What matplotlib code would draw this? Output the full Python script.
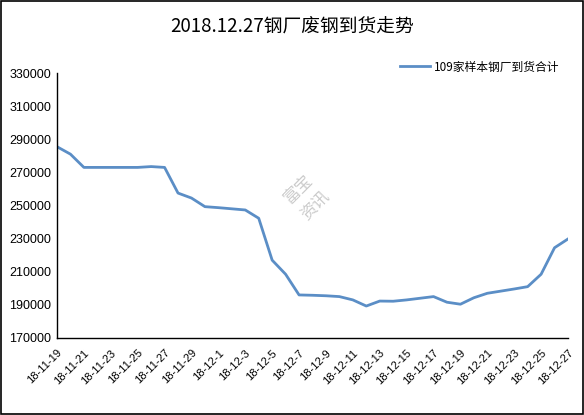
import matplotlib.pyplot as plt
import matplotlib.patches as patches
import numpy as np
import pandas as pd

plt.rcParams['font.family'] = ['Noto Sans CJK SC', 'DejaVu Sans']

# daily dates 2018-11-19 .. 2018-12-27
dates = pd.date_range('2018-11-19', '2018-12-27', freq='D')
labels = [f"18-{d.month}-{d.day}" for d in dates]

# 109家样本钢厂到货合计 (tons)
arrivals = [285500, 281000, 273000, 273000, 273000, 273000, 273000, 273500,
            273000, 257500, 254500, 249300, 248700, 248000, 247300, 242300,
            217000, 208500, 196000, 195800, 195500, 195000, 193000, 189300,
            192300, 192200, 193000, 194000, 195000, 191600, 190400, 194300,
            197000, 198300, 199600, 201000, 208500, 224500, 229800]

x = np.arange(len(dates))

fig = plt.figure(figsize=(5.84, 4.15), dpi=100)
ax = fig.add_axes([57 / 584, 1 - 338 / 415, (568 - 57) / 584, (338 - 73) / 415])

ax.plot(x, arrivals, color='#5B8EC6', linewidth=2.0, label='109家样本钢厂到货合计',
        solid_joinstyle='round')

ax.set_xlim(0, len(x) - 1)
ax.set_ylim(170000, 330000)
ax.set_yticks(np.arange(170000, 330001, 20000))
ax.set_yticklabels([str(v) for v in range(170000, 330001, 20000)],
                   fontsize=9, family=['Liberation Sans', 'DejaVu Sans'])
ax.set_xticks(x[::2])
ax.set_xticklabels(labels[::2], rotation=45, ha='right', rotation_mode='anchor',
                   fontsize=8, family=['Liberation Sans', 'DejaVu Sans'])
ax.tick_params(axis='both', length=0, pad=4)
ax.tick_params(axis='x', pad=7)

for side in ['top', 'right']:
    ax.spines[side].set_visible(False)
for side in ['left', 'bottom']:
    ax.spines[side].set_color('black')
    ax.spines[side].set_linewidth(1.0)

fig.text(0.5, 1 - 27 / 415, '2018.12.27钢厂废钢到货走势', ha='center', va='center',
         fontsize=13.5)

ax.legend(loc='upper right', bbox_to_anchor=(570 / 584, 1 - 50 / 415),
          bbox_transform=fig.transFigure, frameon=False, fontsize=8.5,
          handlelength=2.6, handletextpad=0.3)

# watermark
fig.text(307 / 584, 1 - 198 / 415, '富宝\n资讯', rotation=45, ha='center', va='center',
         fontsize=12, color='#a8a8a8', alpha=0.6, linespacing=1.5)

fig.patches.append(patches.Rectangle((0.001, 0.002), 0.997, 0.996, transform=fig.transFigure,
                                     fill=False, edgecolor='black', linewidth=1.2))

fig.savefig('out.png', dpi=100)
